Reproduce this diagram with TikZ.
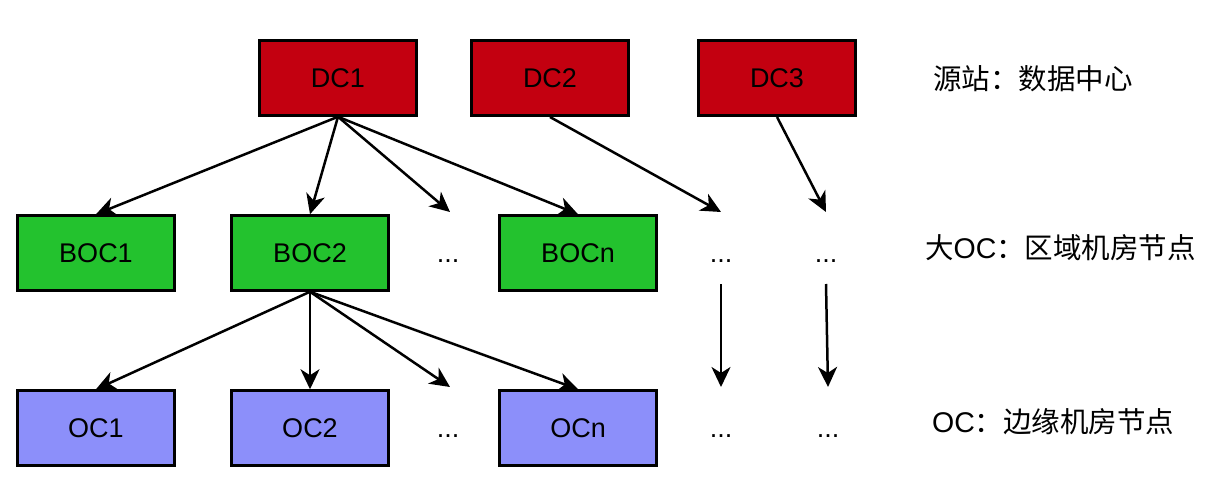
\documentclass[tikz,border=0pt]{standalone}
\usepackage{fontspec}
\setmainfont{Liberation Sans}
\newfontfamily\cjk{Noto Sans CJK SC}
\usetikzlibrary{arrows.meta}
\definecolor{dcred}{RGB}{195,0,16}
\definecolor{bocgreen}{RGB}{35,194,46}
\definecolor{ocblue}{RGB}{140,143,250}
\begin{document}
\begin{tikzpicture}[x=1pt,y=-1pt,
  box/.style={draw=black,line width=2.5pt,minimum width=157pt,minimum height=75pt,inner sep=0pt,font=\fontsize{27}{30}\selectfont,text height=19pt,text depth=0pt},
  dcbox/.style={box,fill=dcred},
  bocbox/.style={box,fill=bocgreen},
  ocbox/.style={box,fill=ocblue},
  dotsnode/.style={inner sep=0pt,minimum height=62pt,font=\fontsize{27}{30}\selectfont,text height=19pt,text depth=0pt},
  lbl/.style={anchor=west,inner sep=0pt,font=\fontsize{28.5}{32}\selectfont},
  arr/.style={line width=2.5pt,-{Stealth[length=20pt,width=19pt,inset=6pt]}}]
\useasboundingbox (0,0) rectangle (1206,494);
% top row
\node[dcbox] (DC1) at (338,78) {DC1};
\node[dcbox] (DC2) at (550,78) {DC2};
\node[dcbox] (DC3) at (777,78) {DC3};
% middle row
\node[bocbox] (BOC1) at (96,253) {BOC1};
\node[bocbox] (BOC2) at (310,253) {BOC2};
\node[dotsnode] (dB1) at (448,253) {...};
\node[bocbox] (BOCn) at (578,253) {BOCn};
\node[dotsnode] (dB2) at (721,253) {...};
\node[dotsnode] (dB3) at (826,253) {...};
% bottom row
\node[ocbox] (OC1) at (96,428) {OC1};
\node[ocbox] (OC2) at (310,428) {OC2};
\node[dotsnode] (dO1) at (448,428) {...};
\node[ocbox] (OCn) at (578,428) {OCn};
\node[dotsnode] (dO2) at (721,428) {...};
\node[dotsnode] (dO3) at (828,428) {...};
% labels
\node[lbl] (L1) at (933,79) {\cjk 源站：数据中心};
\node[lbl] (L2) at (925,248) {{\cjk 大}OC{\cjk ：区域机房节点}};
\node[lbl] (L3) at (932,422) {OC{\cjk ：边缘机房节点}};
% free ends
\coordinate (tB1) at (450,212);
\coordinate (tB2) at (721,212);
\coordinate (tB3) at (826,212);
\coordinate (tO1) at (450,387);
\coordinate (sDC2) at (550,117);
\coordinate (sDC3) at (777,117);
\coordinate (tO2) at (721,387);
\coordinate (tO3) at (828,387);
\coordinate (sB2) at (721,284);
\coordinate (sB3) at (826,284);
% arrows
\draw[arr] (DC1.south) -- (BOC1.north);
\draw[arr] (DC1.south) -- (BOC2.north);
\draw[arr] (DC1.south) -- (tB1);
\draw[arr] (DC1.south) -- (BOCn.north);
\draw[arr] (sDC2) -- (tB2);
\draw[arr] (sDC3) -- (tB3);
\draw[arr] (BOC2.south) -- (OC1.north);
\draw[arr] (BOC2.south) -- (OC2.north);
\draw[arr] (BOC2.south) -- (tO1);
\draw[arr] (BOC2.south) -- (OCn.north);
\draw[arr] (sB2) -- (tO2);
\draw[arr] (sB3) -- (tO3);
\end{tikzpicture}
\end{document}
